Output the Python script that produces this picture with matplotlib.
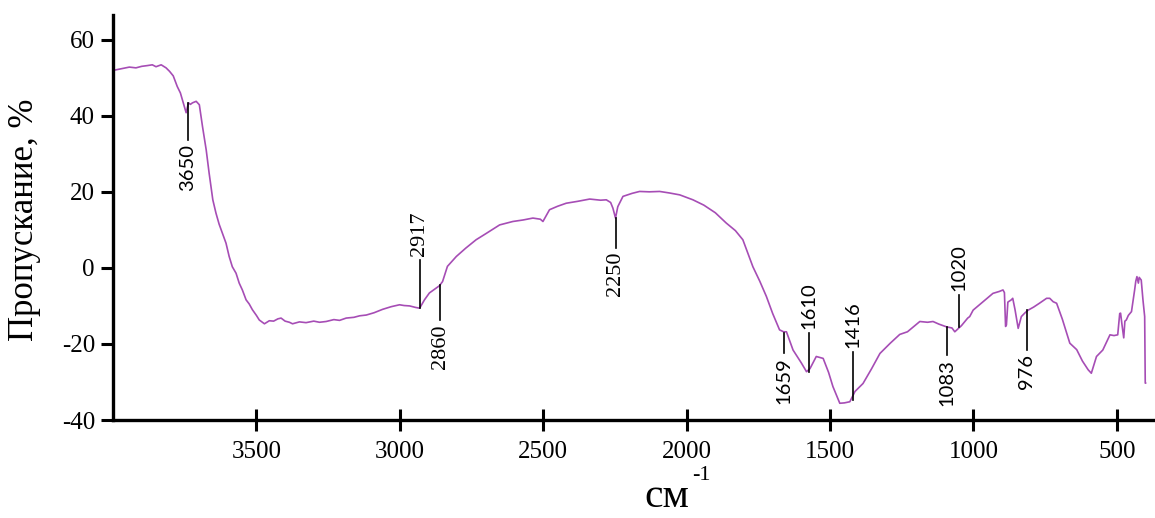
import matplotlib
matplotlib.use("Agg")
import matplotlib.pyplot as plt

# IR spectrum, wavenumber (cm-1) vs transmittance (%)
wn = [3995, 3975, 3943, 3920, 3900, 3880, 3863, 3850, 3832, 3815, 3803, 3790,
      3776, 3765, 3758, 3745, 3737, 3730, 3723, 3710, 3699, 3688, 3675, 3665,
      3652, 3641, 3630, 3619, 3606, 3595, 3584, 3571, 3560, 3549, 3536, 3525,
      3514, 3500, 3490, 3472, 3455, 3440, 3425, 3414, 3400, 3385, 3374, 3350,
      3327, 3300, 3280, 3257, 3230, 3210, 3187, 3160, 3140, 3117, 3090, 3060,
      3030, 3001, 2985, 2966, 2945, 2931, 2914, 2897, 2875, 2862, 2851, 2834,
      2803, 2770, 2734, 2700, 2652, 2606, 2570, 2536, 2510, 2501, 2478, 2450,
      2420, 2380, 2338, 2300, 2280, 2265, 2257, 2248, 2240, 2222, 2190, 2164,
      2130, 2094, 2060, 2024, 1978, 1940, 1900, 1862, 1830, 1804, 1769, 1745,
      1722, 1700, 1676, 1662, 1652, 1629, 1600, 1582, 1570, 1548, 1524, 1505,
      1490, 1466, 1450, 1431, 1413, 1385, 1355, 1326, 1290, 1257, 1230, 1187,
      1160, 1141, 1120, 1094, 1075, 1065, 1042, 1020, 1013, 1001, 965, 932,
      910, 897, 892, 888, 885, 880, 868, 863, 855, 844, 833, 820, 809, 790,
      770, 745, 734, 722, 710, 690, 664, 640, 620, 600, 589, 571, 549, 524,
      510, 497, 490, 487, 482, 476, 472, 467, 460, 449, 438, 434, 430, 425,
      422, 415, 409, 403, 401, 400]
trans = [52.0, 52.3, 52.8, 52.6, 53.0, 53.2, 53.4, 52.9, 53.4, 52.6, 51.7, 50.5,
         47.7, 46.0, 44.2, 40.8, 43.4, 43.0, 43.4, 43.8, 42.9, 37.2, 31.0, 25.0,
         17.9, 14.4, 11.5, 9.2, 6.5, 3.0, 0.3, -1.4, -4.0, -5.8, -8.4, -9.5,
         -11.0, -12.5, -13.7, -14.7, -13.9, -14.0, -13.4, -13.2, -14.0, -14.3, -14.7, -14.2,
         -14.4, -14.0, -14.3, -14.1, -13.6, -13.8, -13.2, -13.0, -12.6, -12.4, -11.8, -10.9,
         -10.2, -9.7, -9.9, -10.0, -10.4, -10.6, -8.4, -6.6, -5.4, -4.7, -3.6, 0.4,
         3.0, 5.2, 7.4, 9.0, 11.3, 12.2, 12.6, 13.1, 12.8, 12.2, 15.3, 16.2,
         17.0, 17.5, 18.1, 17.8, 17.9, 17.2, 15.7, 13.1, 16.1, 18.8, 19.6, 20.1,
         20.0, 20.1, 19.7, 19.2, 17.9, 16.5, 14.5, 11.8, 9.8, 7.4, 0.3, -3.5,
         -7.5, -12.0, -16.3, -16.8, -16.8, -21.6, -25.0, -27.3, -26.5, -23.3, -23.8, -27.5,
         -31.2, -35.6, -35.5, -35.2, -32.5, -30.4, -26.5, -22.5, -19.8, -17.5, -16.8, -14.1,
         -14.3, -14.1, -14.8, -15.5, -15.8, -16.8, -15.2, -13.2, -12.8, -11.1, -8.8, -6.7,
         -6.2, -5.8, -6.5, -15.4, -15.0, -9.0, -8.4, -8.0, -11.0, -15.9, -12.8, -11.8, -11.1, -10.3,
         -9.3, -8.0, -8.0, -8.9, -9.3, -13.5, -19.8, -21.5, -24.5, -26.8, -27.7, -23.3, -21.6, -17.6,
         -17.8, -17.6, -12.0, -11.9, -15.0, -18.4, -14.0, -13.7, -12.5, -11.5, -5.8, -3.5, -2.3, -4.0,
         -2.5, -3.2, -8.4, -12.8, -30.3, -30.3]

# peak markers: label, x position, line from y0 to y1, label side
peak_labels = ["3650", "2917", "2860", "2250", "1659", "1610", "1416", "1083", "1020", "976"]
peak_x = [3740, 2931, 2859, 2248, 1662, 1574, 1421, 1093, 1051, 814]
peak_y0 = [43.4, -10.5, -4.5, 13.2, -17.1, -27.4, -34.7, -15.5, -15.5, -11.1]
peak_y1 = [33.7, 2.1, -13.7, 5.3, -22.4, -17.1, -22.1, -22.9, -7.1, -21.6]
peak_font = ["Lato", "Liberation Serif", "Liberation Serif", "Liberation Serif", "Lato",
             "Lato", "Lato", "Lato", "Lato", "Lato"]

xticks = [3500, 3000, 2500, 2000, 1500, 1000, 500]
yticks = [-40, -20, 0, 20, 40, 60]

W, H = 1155, 518
fig = plt.figure(figsize=(W / 100, H / 100), dpi=100)
ax = fig.add_axes([113 / W, 1 - 420 / H, 1 - 113 / W, (420 - 15) / H])

ax.plot(wn, trans, color="#a64db5", lw=1.2)

for lab, x, y0, y1, fam in zip(peak_labels, peak_x, peak_y0, peak_y1, peak_font):
    ax.plot([x, x], [y0, y1], color="black", lw=1.2)
    up = y1 > y0
    size = 16 if fam == "Liberation Serif" else 14.5
    ax.annotate(lab, (x, y1), xytext=(0, 3 if up else -3), textcoords="offset points",
                rotation=90, ha="center", va="bottom" if up else "top",
                fontsize=size, family=fam)

ax.set_xlim(4000, 367)
ax.set_ylim(-40, 66.5)
ax.set_xticks(xticks)
ax.set_yticks(yticks)
ax.set_xticklabels([str(t) for t in xticks], family="Liberation Serif", fontsize=18)
ax.set_yticklabels([str(t) for t in yticks], family="Liberation Serif", fontsize=18)
ax.tick_params(axis="x", direction="inout", length=16, width=2.2, pad=7)
ax.tick_params(axis="y", direction="out", length=9, width=2.2, pad=4)

for s in ["top", "right"]:
    ax.spines[s].set_visible(False)
for s in ["left", "bottom"]:
    ax.spines[s].set_linewidth(2.4)

fig.text(25 / W, 1 - 220 / H, "Пропускание, %", rotation=90, ha="center", va="center",
         family="Liberation Serif", fontsize=25)
fig.text(667 / W, 1 - 497 / H, "см", ha="center", va="center",
         family="Liberation Serif", fontsize=30)
fig.text(692 / W, 1 - 466 / H, "-1", ha="left", va="top",
         family="Liberation Serif", fontsize=16)

fig.savefig("out.png", dpi=100)
